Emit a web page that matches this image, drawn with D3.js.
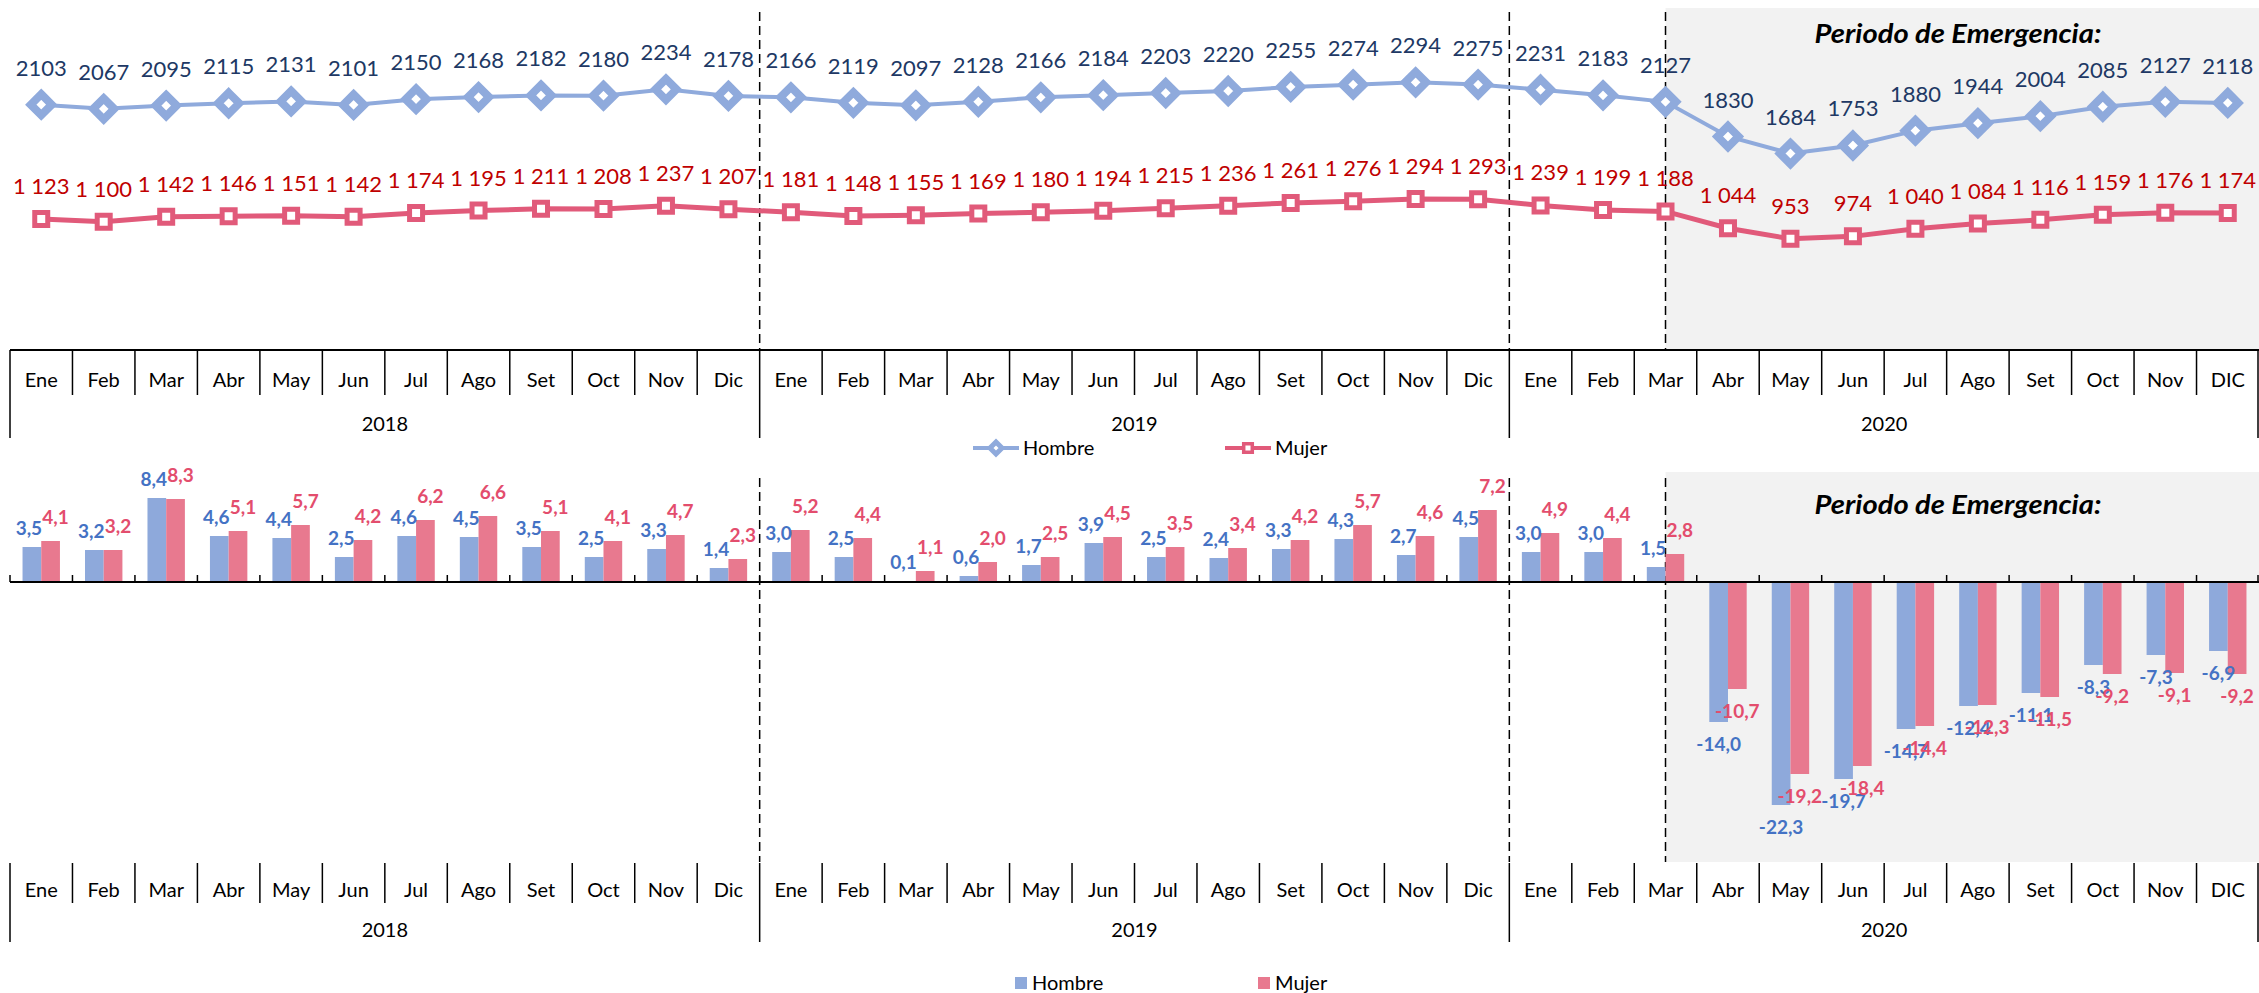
<!DOCTYPE html>
<html>
<head>
<meta charset="utf-8">
<script src="https://cdn.jsdelivr.net/npm/d3@7"></script>
<style>
    body { margin: 0; background: #ffffff; }
    svg text { font-family: Lato, "Open Sans", sans-serif; fill: #000; }
</style>
</head>
<body>
<div class="chart"></div>
<script>
let width = 2259,
    height = 993;

const years = ["2018", "2019", "2020"];
const monthNames = ["Ene", "Feb", "Mar", "Abr", "May", "Jun", "Jul", "Ago", "Set", "Oct", "Nov", "Dic"];
const monthNames2020 = ["Ene", "Feb", "Mar", "Abr", "May", "Jun", "Jul", "Ago", "Set", "Oct", "Nov", "DIC"];
const categories = monthNames.concat(monthNames, monthNames2020);

// empleo (miles) - grafico de lineas
const hombreEmpleo = [2103, 2067, 2095, 2115, 2131, 2101, 2150, 2168, 2182, 2180, 2234, 2178,
                      2166, 2119, 2097, 2128, 2166, 2184, 2203, 2220, 2255, 2274, 2294, 2275,
                      2231, 2183, 2127, 1830, 1684, 1753, 1880, 1944, 2004, 2085, 2127, 2118];
const mujerEmpleo = [1123, 1100, 1142, 1146, 1151, 1142, 1174, 1195, 1211, 1208, 1237, 1207,
                     1181, 1148, 1155, 1169, 1180, 1194, 1215, 1236, 1261, 1276, 1294, 1293,
                     1239, 1199, 1188, 1044, 953, 974, 1040, 1084, 1116, 1159, 1176, 1174];

// variacion % - grafico de barras
const hombreVar = [3.5, 3.2, 8.4, 4.6, 4.4, 2.5, 4.6, 4.5, 3.5, 2.5, 3.3, 1.4,
                   3.0, 2.5, 0.1, 0.6, 1.7, 3.9, 2.5, 2.4, 3.3, 4.3, 2.7, 4.5,
                   3.0, 3.0, 1.5, -14.0, -22.3, -19.7, -14.7, -12.4, -11.1, -8.3, -7.3, -6.9];
const mujerVar = [4.1, 3.2, 8.3, 5.1, 5.7, 4.2, 6.2, 6.6, 5.1, 4.1, 4.7, 2.3,
                  5.2, 4.4, 1.1, 2.0, 2.5, 4.5, 3.5, 3.4, 4.2, 5.7, 4.6, 7.2,
                  4.9, 4.4, 2.8, -10.7, -19.2, -18.4, -14.4, -12.3, -11.5, -9.2, -9.1, -9.2];

const emergencyStart = 26;
const series = ["Hombre", "Mujer"];

const blueLine = "#8FAADC", redLine = "#E15A7A";
const blueBar = "#8EA9DB", redBar = "#E8798F";

const esLocale = d3.formatLocale({decimal: ",", thousands: " ", grouping: [3], currency: ["", ""], minus: "-"});
const fmtMiles = esLocale.format(",d");
const fmtVar = esLocale.format(".1f");

document.addEventListener('DOMContentLoaded', () => {
    let svg = d3.select(".chart").append("svg")
        .attr("width", width)
        .attr("height", height);

    const x = d3.scaleBand().domain(d3.range(categories.length)).range([10, 2259]);
    const bw = x.bandwidth();
    const cx = i => x(i) + bw / 2;
    const xEmerg = cx(emergencyStart);

    const yTop = d3.scaleLinear().domain([0, 3000]).range([350, 0]);
    const yBot = d3.scaleLinear().domain([-28, 11]).range([862, 472]);
    const x1 = d3.scaleBand().domain(series).range([0, bw]).paddingOuter(0.67);

    // fondo del periodo de emergencia
    svg.append("rect")
        .attr("x", xEmerg).attr("y", 8)
        .attr("width", 2259 - xEmerg).attr("height", yTop(0) - 8)
        .style("fill", "#F2F2F2");
    svg.append("rect")
        .attr("x", xEmerg).attr("y", yBot.range()[1])
        .attr("width", 2259 - xEmerg).attr("height", yBot.range()[0] - yBot.range()[1])
        .style("fill", "#F2F2F2");

    [43, 514].forEach(ty => {
        svg.append("text")
            .attr("x", 1958).attr("y", ty)
            .attr("text-anchor", "middle")
            .attr("textLength", 287)
            .attr("lengthAdjust", "spacingAndGlyphs")
            .style("font-size", "27px")
            .style("font-weight", "bold")
            .style("font-style", "italic")
            .text("Periodo de Emergencia:");
    });

    // lineas punteadas
    const dashX = [x(12), x(24), xEmerg];
    dashX.forEach(dx => {
        svg.append("line")
            .attr("x1", dx).attr("x2", dx).attr("y1", 12).attr("y2", yTop(0))
            .style("stroke", "#000").style("stroke-width", 1.5).style("stroke-dasharray", "9,5");
        svg.append("line")
            .attr("x1", dx).attr("x2", dx).attr("y1", 478).attr("y2", 862)
            .style("stroke", "#000").style("stroke-width", 1.5).style("stroke-dasharray", "9,5");
    });

    // tabla de categorias (meses / años)
    function drawTable(top, monthY, yearY, monthBottom, yearBottom, topLine) {
        let g = svg.append("g");
        if (topLine) {
            g.append("line")
                .attr("x1", x.range()[0]).attr("x2", x.range()[1])
                .attr("y1", top).attr("y2", top)
                .style("stroke", "#000").style("stroke-width", 2);
        }
        d3.range(categories.length + 1).forEach(i => {
            let lx = i < categories.length ? x(i) : x.range()[1] - 1;
            g.append("line")
                .attr("x1", lx).attr("x2", lx)
                .attr("y1", top).attr("y2", i % 12 == 0 ? yearBottom : monthBottom)
                .style("stroke", "#000").style("stroke-width", 1.5);
        });
        let axis = d3.axisBottom(x).tickSize(0).tickFormat(i => categories[i]);
        let ag = g.append("g").attr("transform", `translate(0,${monthY})`).call(axis);
        ag.select(".domain").remove();
        ag.selectAll("text")
            .attr("y", 0).attr("dy", "0.35em")
            .style("font-size", "20px").style("font-family", "Lato");
        years.forEach((yr, k) => {
            g.append("text")
                .attr("x", (x(k * 12) + x(k * 12 + 11) + bw) / 2)
                .attr("y", yearY).attr("dy", "0.35em")
                .attr("text-anchor", "middle")
                .style("font-size", "20px")
                .text(yr);
        });
    }
    drawTable(yTop(0), 380, 424, 395, 438, true);
    drawTable(863, 890, 930, 903, 942, false);

    // grafico de lineas
    const lineGen = yScale => d3.line().x((d, i) => cx(i)).y(d => yScale(d));

    svg.append("path").datum(hombreEmpleo)
        .attr("d", lineGen(yTop))
        .style("fill", "none").style("stroke", blueLine).style("stroke-width", 4);
    svg.append("path").datum(mujerEmpleo)
        .attr("d", lineGen(yTop))
        .style("fill", "none").style("stroke", redLine).style("stroke-width", 5);

    const diamond = r => `M0,${-r}L${r},0L0,${r}L${-r},0Z`;
    const square = s => `M${-s},${-s}H${s}V${s}H${-s}Z`;

    hombreEmpleo.forEach((v, i) => {
        svg.append("path")
            .attr("d", diamond(10.5))
            .attr("transform", `translate(${cx(i)},${yTop(v)})`)
            .style("fill", "#fff").style("stroke", blueLine).style("stroke-width", 8);
        svg.append("text")
            .attr("x", cx(i)).attr("y", yTop(v) - 29)
            .attr("text-anchor", "middle")
            .style("font-size", "22px").style("fill", "#203864")
            .text(d3.format("d")(v));
    });
    mujerEmpleo.forEach((v, i) => {
        svg.append("path")
            .attr("d", square(6.5))
            .attr("transform", `translate(${cx(i)},${yTop(v)})`)
            .style("fill", "#fff").style("stroke", redLine).style("stroke-width", 5);
        svg.append("text")
            .attr("x", cx(i)).attr("y", yTop(v) - 25)
            .attr("text-anchor", "middle")
            .style("font-size", "22px").style("fill", "#C00000")
            .text(fmtMiles(v));
    });

    // leyenda superior
    const legTop = [
        {name: "Hombre", x0: 973, color: blueLine, shape: diamond(6), sw: 5},
        {name: "Mujer", x0: 1225, color: redLine, shape: square(4.3), sw: 3.5}
    ];
    legTop.forEach(l => {
        svg.append("line")
            .attr("x1", l.x0).attr("x2", l.x0 + 46).attr("y1", 448).attr("y2", 448)
            .style("stroke", l.color).style("stroke-width", 4);
        svg.append("path")
            .attr("d", l.shape)
            .attr("transform", `translate(${l.x0 + 23},448)`)
            .style("fill", "#fff").style("stroke", l.color).style("stroke-width", l.sw);
        svg.append("text")
            .attr("x", l.x0 + 50).attr("y", 448).attr("dy", "0.35em")
            .style("font-size", "20px")
            .text(l.name);
    });

    // grafico de barras
    const barSets = [
        {name: "Hombre", values: hombreVar, fill: blueBar, label: "#4472C4", up: 19, down: 22, shift: -3},
        {name: "Mujer", values: mujerVar, fill: redBar, label: "#E34D6D", up: 24, down: 22, shift: 5}
    ];
    barSets.forEach(s => {
        s.values.forEach((v, i) => {
            let bx = x(i) + x1(s.name);
            svg.append("rect")
                .attr("x", bx)
                .attr("y", Math.min(yBot(v), yBot(0)))
                .attr("width", x1.bandwidth())
                .attr("height", Math.abs(yBot(v) - yBot(0)))
                .style("fill", s.fill);
        });
    });

    // eje cero
    svg.append("line")
        .attr("x1", x.range()[0]).attr("x2", x.range()[1])
        .attr("y1", yBot(0)).attr("y2", yBot(0))
        .style("stroke", "#000").style("stroke-width", 2);
    d3.range(categories.length + 1).forEach(i => {
        let tx = i < categories.length ? x(i) : x.range()[1] - 1;
        svg.append("line")
            .attr("x1", tx).attr("x2", tx)
            .attr("y1", yBot(0) - 7).attr("y2", yBot(0))
            .style("stroke", "#000").style("stroke-width", 1.5);
    });

    barSets.forEach(s => {
        s.values.forEach((v, i) => {
            let lx = x(i) + x1(s.name) + x1.bandwidth() / 2 + (v >= 0 ? s.shift : 0);
            let ly = v >= 0 ? yBot(v) - s.up : yBot(v) + s.down;
            svg.append("text")
                .attr("x", lx).attr("y", ly).attr("dy", "0.35em")
                .attr("text-anchor", "middle")
                .style("font-size", "19px").style("font-weight", "bold")
                .style("fill", s.label)
                .text(fmtVar(v));
        });
    });

    // leyenda inferior
    const legBot = [
        {name: "Hombre", x0: 1015, color: blueBar},
        {name: "Mujer", x0: 1258, color: redBar}
    ];
    legBot.forEach(l => {
        svg.append("rect")
            .attr("x", l.x0).attr("y", 977).attr("width", 12).attr("height", 12)
            .style("fill", l.color);
        svg.append("text")
            .attr("x", l.x0 + 17).attr("y", 983).attr("dy", "0.35em")
            .style("font-size", "20px")
            .text(l.name);
    });
});
</script>
</body>
</html>
